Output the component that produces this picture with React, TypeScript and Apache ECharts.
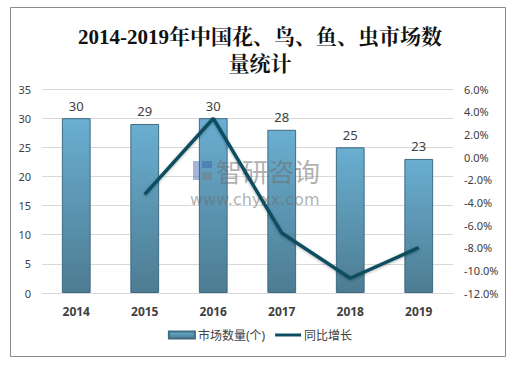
import React, { useEffect, useRef } from "react";
import * as echarts from "echarts";

const categories = ["2014", "2015", "2016", "2017", "2018", "2019"];
const marketCount = [30, 29, 30, 28, 25, 23];
const growthRate: (number | string)[] = ["-", -3.3, 3.4, -6.7, -10.7, -8.0];
const titleText = "2014-2019年中国花、鸟、鱼、虫市场数\n量统计";
const seriesNames = ["市场数量(个)", "同比增长"];

export default function App() {
  const ref = useRef<HTMLDivElement>(null);
  useEffect(() => {
    document.body.style.margin = "0";
    const chart = echarts.init(ref.current!, null, { renderer: "svg" });
    const font = "'Noto Sans', 'Noto Sans CJK SC', sans-serif";
    chart.setOption({
      animation: false,
      backgroundColor: "#ffffff",
      title: {
        text: titleText,
        left: "center",
        top: 18,
        textStyle: {
          fontFamily: "'Liberation Serif', 'Noto Serif CJK SC', 'Noto Sans CJK SC', serif",
          fontSize: 21,
          fontWeight: "bold",
          color: "#111",
          lineHeight: 27,
        },
      },
      graphic: [
        {
          type: "rect",
          shape: { x: 10.5, y: 7.5, width: 495, height: 349 },
          style: { fill: "none", stroke: "#8c8c8c", lineWidth: 1 },
          silent: true,
          z: 0,
        },
        { type: "rect", z: 5, silent: true, shape: { x: 193, y: 161, width: 7, height: 19 }, style: { fill: "rgba(60,90,170,0.45)" } },
        { type: "rect", z: 5, silent: true, shape: { x: 202, y: 161, width: 10, height: 7 }, style: { fill: "rgba(60,90,170,0.45)" } },
        { type: "rect", z: 5, silent: true, shape: { x: 202, y: 172, width: 10, height: 8 }, style: { fill: "rgba(120,120,120,0.45)" } },
        {
          type: "text",
          z: 5,
          silent: true,
          style: {
            x: 216, y: 170, text: "智研咨询", fill: "rgba(110,110,110,0.55)",
            font: "26px 'Noto Sans CJK SC', sans-serif", textVerticalAlign: "middle",
          },
        },
        {
          type: "text",
          z: 5,
          silent: true,
          style: {
            x: 190, y: 199, text: "www.chyxx.com", fill: "rgba(110,110,110,0.55)",
            font: "16px 'DejaVu Sans', sans-serif", textVerticalAlign: "middle",
          },
        },
      ],
      legend: {
        bottom: 20,
        left: "center",
        itemGap: 10,
        itemWidth: 26,
        itemHeight: 7,
        textStyle: { fontFamily: font, fontSize: 12, color: "#404040", padding: [0, 0, 0, -2] },
        data: [
          { name: seriesNames[0], icon: "rect" },
          { name: seriesNames[1], icon: "path://M0,0 L26,0 L26,3 L0,3 Z" },
        ],
      },
      grid: { left: 42, right: 67, top: 89, bottom: 73 },
      xAxis: {
        type: "category",
        data: categories,
        axisTick: { show: false },
        axisLine: { lineStyle: { color: "#d9d9d9" } },
        axisLabel: { color: "#404040", fontFamily: font, fontWeight: "bold", fontSize: 12, margin: 12 },
      },
      yAxis: [
        {
          type: "value",
          min: 0,
          max: 35,
          interval: 5,
          axisLine: { show: false },
          axisTick: { show: false },
          splitLine: { lineStyle: { color: "#d9d9d9" } },
          axisLabel: { color: "#404040", fontFamily: font, fontSize: 11, margin: 11 },
        },
        {
          type: "value",
          min: -12,
          max: 6,
          interval: 2,
          axisLine: { show: false },
          axisTick: { show: false },
          splitLine: { show: false },
          axisLabel: {
            color: "#404040",
            fontFamily: font,
            fontSize: 11,
            margin: 11,
            formatter: (v: number) => v.toFixed(1) + "%",
          },
        },
      ],
      series: [
        {
          name: seriesNames[0],
          type: "bar",
          z: 2,
          data: marketCount,
          barWidth: "42%",
          itemStyle: {
            color: new echarts.graphic.LinearGradient(0, 0, 0, 1, [
              { offset: 0, color: "#6aaed1" },
              { offset: 1, color: "#4d7c92" },
            ]),
            borderColor: "#3f6b80",
            borderWidth: 1,
          },
          label: {
            show: true,
            position: "top",
            color: "#404040",
            fontFamily: font,
            fontSize: 13,
            distance: 6,
          },
        },
        {
          name: seriesNames[1],
          type: "line",
          z: 10,
          yAxisIndex: 1,
          data: growthRate,
          showSymbol: false,
          symbol: "none",
          connectNulls: false,
          lineStyle: { color: "#0d4d61", width: 3.5, shadowColor: "rgba(0,0,0,0.3)", shadowBlur: 3, shadowOffsetY: 1 },
          itemStyle: { color: "#0d4d61" },
        },
      ],
    });
    return () => chart.dispose();
  }, []);
  return <div ref={ref} style={{ width: 520, height: 366 }} />;
}
